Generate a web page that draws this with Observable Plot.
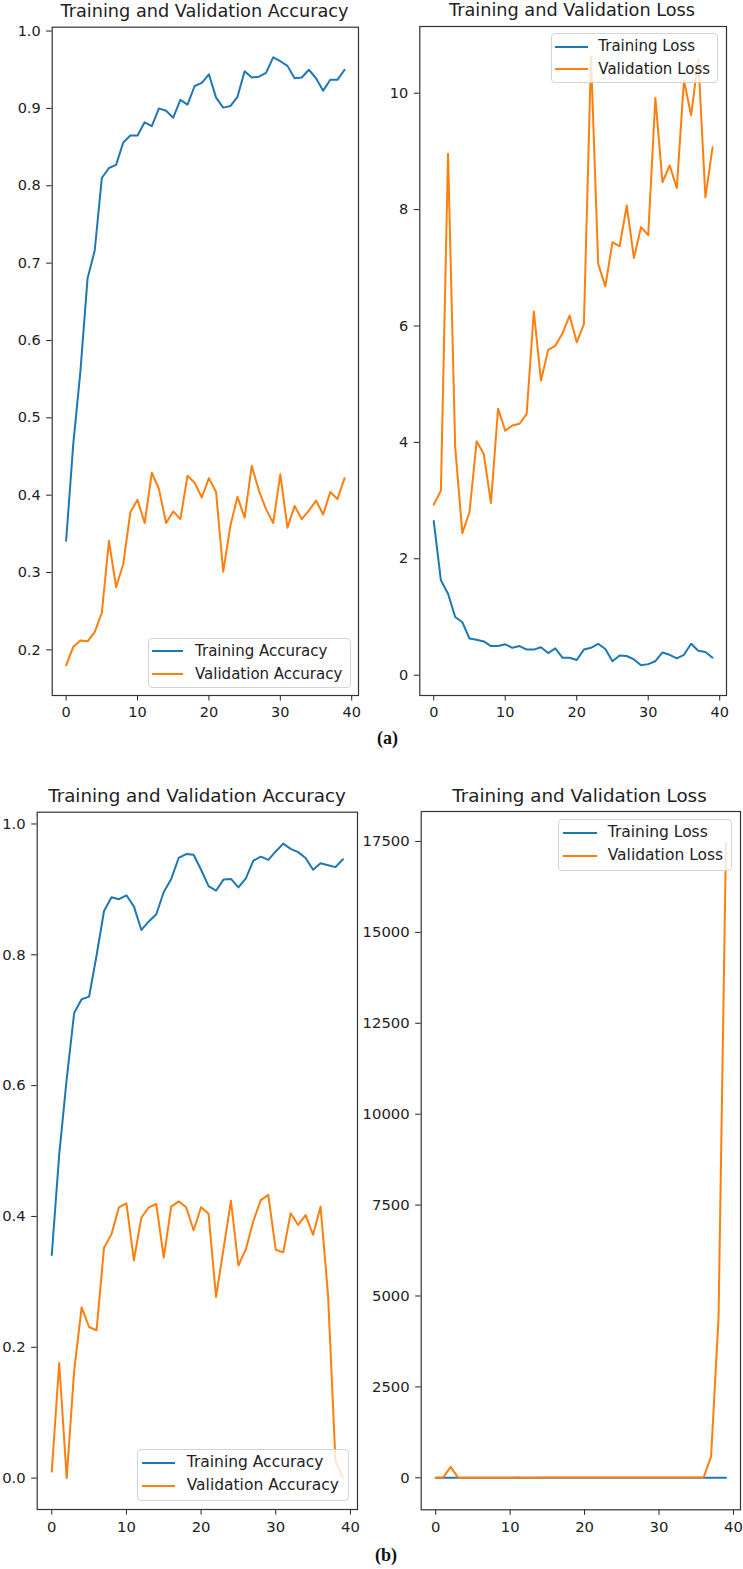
<!DOCTYPE html>
<html><head><meta charset="utf-8">
<script src="https://cdn.jsdelivr.net/npm/d3@7"></script>
<script src="https://cdn.jsdelivr.net/npm/@observablehq/plot@0.6"></script>
<style>
body{margin:0;background:#fff;}
#root{position:relative;width:743px;height:1569px;overflow:hidden;font-family:"DejaVu Sans",sans-serif;color:#222;background:#fff;}
.panel{position:absolute;}
.title{position:absolute;white-space:nowrap;transform:translateX(-50%);line-height:1;}
.legend{position:absolute;border:1px solid #d3d3d3;border-radius:4px;background:rgba(255,255,255,0.8);box-sizing:border-box;}
.ltext{position:absolute;white-space:nowrap;line-height:1;}
.sw{position:absolute;height:2px;}
.cap{position:absolute;font-family:"Liberation Serif",serif;font-weight:bold;font-size:18px;line-height:1;color:#111;}
</style></head><body><div id="root"></div>
<script>
// ---- data ----
const xTicks = [0, 10, 20, 30, 40];
const accTicksA = [0.2, 0.3, 0.4, 0.5, 0.6, 0.7, 0.8, 0.9, 1.0];
const lossTicksA = [0, 2, 4, 6, 8, 10];
const accTicksB = [0.0, 0.2, 0.4, 0.6, 0.8, 1.0];
const lossTicksB = [0, 2500, 5000, 7500, 10000, 12500, 15000, 17500];

const accTrainA = [0.341,0.466,0.56,0.680,0.716,0.810,0.823,0.827,0.856,0.865,0.865,0.882,0.877,0.900,0.897,0.888,0.911,0.905,0.929,0.933,0.944,0.914,0.901,0.903,0.915,0.948,0.940,0.941,0.946,0.966,0.961,0.955,0.939,0.940,0.950,0.939,0.923,0.937,0.937,0.950];
const accValA = [0.180,0.204,0.212,0.211,0.223,0.248,0.341,0.281,0.311,0.378,0.394,0.364,0.429,0.408,0.364,0.379,0.369,0.425,0.416,0.397,0.422,0.404,0.301,0.360,0.398,0.371,0.438,0.406,0.382,0.364,0.427,0.358,0.386,0.369,0.380,0.393,0.375,0.404,0.395,0.422];
const lossTrainA = [2.65,1.63,1.40,1.00,0.91,0.63,0.61,0.58,0.50,0.50,0.53,0.47,0.50,0.44,0.44,0.48,0.38,0.46,0.30,0.30,0.26,0.44,0.47,0.54,0.45,0.24,0.34,0.33,0.27,0.17,0.19,0.24,0.39,0.35,0.29,0.35,0.54,0.42,0.40,0.30];
const lossValA = [2.93,3.17,8.96,3.92,2.44,2.80,4.02,3.80,2.96,4.58,4.20,4.29,4.32,4.49,6.25,5.06,5.59,5.66,5.87,6.18,5.72,6.03,10.62,7.07,6.68,7.44,7.37,8.07,7.17,7.70,7.56,9.92,8.47,8.76,8.37,10.22,9.62,10.59,8.21,9.07];

const accTrainB = [0.341,0.495,0.61,0.711,0.732,0.736,0.799,0.867,0.888,0.885,0.891,0.874,0.838,0.851,0.862,0.896,0.916,0.948,0.954,0.953,0.930,0.905,0.898,0.915,0.916,0.903,0.917,0.944,0.950,0.945,0.958,0.970,0.962,0.957,0.948,0.930,0.940,0.937,0.934,0.946];
const accValB = [0.010,0.176,0.000,0.164,0.261,0.231,0.226,0.352,0.373,0.414,0.420,0.333,0.398,0.414,0.419,0.337,0.415,0.423,0.414,0.379,0.414,0.404,0.277,0.350,0.424,0.325,0.350,0.393,0.425,0.433,0.349,0.345,0.405,0.387,0.402,0.372,0.415,0.281,0.026,0.000];
const lossTrainB = [2.5,1.6,1.1,0.9,0.8,0.75,0.6,0.45,0.38,0.36,0.33,0.4,0.5,0.42,0.4,0.32,0.27,0.18,0.16,0.16,0.22,0.3,0.32,0.26,0.25,0.3,0.26,0.19,0.17,0.18,0.15,0.11,0.13,0.14,0.17,0.22,0.19,0.2,0.2,0.17];
const lossValB = [3.1,5.2,300,4.0,3.3,3.6,3.8,3.5,3.9,3.6,3.8,5.5,4.2,4.6,4.9,6.8,5.0,5.3,5.6,6.4,6.0,6.3,9.5,7.1,6.5,9.3,8.2,7.4,7.0,7.3,9.6,10.4,8.7,9.2,8.9,10.1,11.0,590,4400,17450];

const blue = "#1f77b4", orange = "#ff7f0e";
const root = document.getElementById("root");

function addPanel(o) {
  const svg = Plot.plot({
    width: o.width, height: o.height,
    marginTop: o.mt, marginRight: o.mr, marginBottom: o.mb, marginLeft: o.ml,
    style: {background: "transparent", fontSize: o.fs + "px", fontFamily: "DejaVu Sans", color: "#222", overflow: "visible"},
    x: {domain: [-1.95, 40.95], ticks: xTicks, tickSize: 5.5, tickPadding: 6, label: null},
    y: {domain: o.ydomain, ticks: o.yticks, tickFormat: o.yfmt, tickSize: 5.5, tickPadding: 6, label: null},
    marks: [
      Plot.lineY(o.train, {stroke: blue, strokeWidth: 2, strokeLinejoin: "round"}),
      Plot.lineY(o.val, {stroke: orange, strokeWidth: 2, strokeLinejoin: "round"}),
      Plot.frame({stroke: "#333", strokeWidth: 1.2})
    ]
  });
  const div = document.createElement("div");
  div.className = "panel";
  div.style.left = o.left + "px";
  div.style.top = o.top + "px";
  div.appendChild(svg);
  root.appendChild(div);
}

function addTitle(text, cx, top, fs) {
  const d = document.createElement("div");
  d.className = "title";
  d.textContent = text;
  d.style.left = cx + "px";
  d.style.top = top + "px";
  d.style.fontSize = fs + "px";
  root.appendChild(d);
}

function addLegend(o) {
  const box = document.createElement("div");
  box.className = "legend";
  Object.assign(box.style, {left: o.x + "px", top: o.y + "px", width: o.w + "px", height: o.h + "px"});
  root.appendChild(box);
  o.items.forEach((it, i) => {
    const cy = o.rows[i];
    const sw = document.createElement("div");
    sw.className = "sw";
    Object.assign(sw.style, {left: o.sx0 + "px", width: (o.sx1 - o.sx0) + "px", top: (cy - 1) + "px", background: it.color});
    root.appendChild(sw);
    const t = document.createElement("div");
    t.className = "ltext";
    t.textContent = it.label;
    Object.assign(t.style, {left: o.tx + "px", top: (cy - 0.5 * o.fs) + "px", fontSize: o.fs + "px"});
    root.appendChild(t);
  });
}

function addCap(text, left, top) {
  const d = document.createElement("div");
  d.className = "cap";
  d.textContent = text;
  d.style.left = left + "px";
  d.style.top = top + "px";
  root.appendChild(d);
}

const f1 = d3.format(".1f"), fd = d3.format("d");

// (a) accuracy
addPanel({left: 0, top: 0, width: 368, height: 722, mt: 26.7, mr: 10, mb: 27, ml: 51.7,
  ydomain: [0.141, 1.005], yticks: accTicksA, yfmt: f1, train: accTrainA, val: accValA, fs: 14.5});
// (a) loss
addPanel({left: 372, top: 0, width: 371, height: 722, mt: 26, mr: 17, mb: 27, ml: 47.3,
  ydomain: [-0.349, 11.146], yticks: lossTicksA, yfmt: fd, train: lossTrainA, val: lossValA, fs: 14.5});
// (b) accuracy
addPanel({left: 0, top: 780, width: 359, height: 760, mt: 31.7, mr: 2, mb: 31, ml: 36.7,
  ydomain: [-0.048, 1.018], yticks: accTicksB, yfmt: f1, train: accTrainB, val: accValB, fs: 14.8});
// (b) loss
addPanel({left: 359, top: 780, width: 384, height: 760, mt: 31, mr: 3, mb: 30.7, ml: 61.7,
  ydomain: [-880, 18324], yticks: lossTicksB, yfmt: fd, train: lossTrainB, val: lossValB, fs: 14.8});

addTitle("Training and Validation Accuracy", 204.5, 2.5, 17.7);
addTitle("Training and Validation Loss", 572, 2.3, 17.7);
addTitle("Training and Validation Accuracy", 197, 786.8, 18.3);
addTitle("Training and Validation Loss", 579.5, 786.8, 18.3);

addLegend({x: 147.7, y: 638.3, w: 203.3, h: 50, rows: [651, 674], sx0: 151.7, sx1: 183.3, tx: 195, fs: 15,
  items: [{label: "Training Accuracy", color: blue}, {label: "Validation Accuracy", color: orange}]});
addLegend({x: 550.7, y: 33.3, w: 167, h: 50, rows: [46.7, 69.3], sx0: 555, sx1: 588.3, tx: 598.3, fs: 15,
  items: [{label: "Training Loss", color: blue}, {label: "Validation Loss", color: orange}]});
addLegend({x: 136.7, y: 1449.3, w: 212.3, h: 51.7, rows: [1462.7, 1486], sx0: 141.7, sx1: 175, tx: 186.7, fs: 15.5,
  items: [{label: "Training Accuracy", color: blue}, {label: "Validation Accuracy", color: orange}]});
addLegend({x: 557.7, y: 819.3, w: 174.6, h: 51.7, rows: [832.7, 856], sx0: 562.7, sx1: 596.7, tx: 607.7, fs: 15.5,
  items: [{label: "Training Loss", color: blue}, {label: "Validation Loss", color: orange}]});

addCap("(a)", 377, 729);
addCap("(b)", 375, 1546);
</script>
</body></html>
